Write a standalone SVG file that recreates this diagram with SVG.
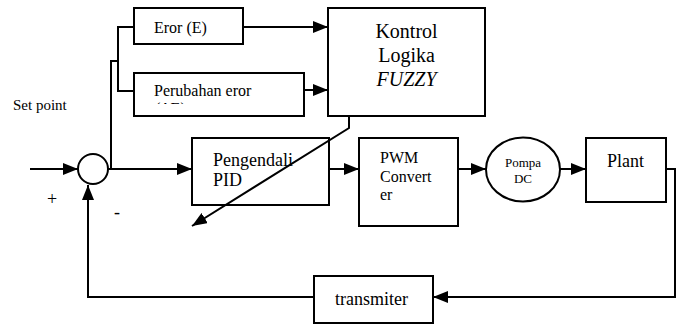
<svg xmlns="http://www.w3.org/2000/svg" width="678" height="324" viewBox="0 0 678 324">
<style>
.box{fill:#fff;stroke:#000;stroke-width:2}
.ln{fill:none;stroke:#000;stroke-width:2}
text{font-family:'Liberation Serif','Times New Roman',Times,serif;fill:#000}
</style>
<defs>
<marker id="ah" markerUnits="userSpaceOnUse" markerWidth="15" markerHeight="12" refX="15" refY="6" orient="auto">
<path d="M0,0 L15,6 L0,12 z" fill="#000"/>
</marker>
<clipPath id="clipPE"><rect x="135" y="74" width="168" height="30"/></clipPath>
</defs>
<rect width="678" height="324" fill="#fff"/>
<g id="sum">
<circle class="box" cx="93" cy="169" r="15"/>
</g>
<g id="labels">
<text x="13" y="110" font-size="15">Set point</text>
<text x="47" y="205" font-size="18">+</text>
<text x="114" y="218" font-size="18">-</text>
</g>
<g id="eror">
<rect class="box" x="134" y="8" width="109" height="36"/>
<text x="154" y="33" font-size="16">Eror (E)</text>
</g>
<g id="perubahan">
<rect class="box" x="134" y="73" width="170" height="43"/>
<text x="154" y="96" font-size="16">Perubahan eror</text>
<text x="155" y="114" font-size="16" clip-path="url(#clipPE)">(ΔE)</text>
</g>
<g id="fuzzy">
<rect class="box" x="328" y="8" width="157" height="108"/>
<text x="406.5" y="38" font-size="20" text-anchor="middle">Kontrol</text>
<text x="406.5" y="62" font-size="20" text-anchor="middle">Logika</text>
<text x="406.5" y="86" font-size="20" text-anchor="middle" font-style="italic">FUZZY</text>
</g>
<g id="pid">
<rect class="box" x="192" y="138" width="137" height="67"/>
<text x="213" y="166" font-size="18">Pengendali</text>
<text x="213" y="186" font-size="18">PID</text>
</g>
<g id="pwm">
<rect class="box" x="359" y="138" width="99" height="88"/>
<text x="380" y="163" font-size="16">PWM</text>
<text x="380" y="182" font-size="16">Convert</text>
<text x="380" y="200" font-size="16">er</text>
</g>
<g id="pompa">
<ellipse class="box" cx="523" cy="169.5" rx="37" ry="32"/>
<text x="523" y="167" font-size="13" text-anchor="middle">Pompa</text>
<text x="523" y="183" font-size="13" text-anchor="middle">DC</text>
</g>
<g id="plant">
<rect class="box" x="586" y="138" width="80" height="64"/>
<text x="607" y="167" font-size="18">Plant</text>
</g>
<g id="transmiter">
<rect class="box" x="314" y="276" width="119" height="47"/>
<text x="335" y="305" font-size="18">transmiter</text>
</g>
<g id="connectors">
<path class="ln" d="M30,169 H78" marker-end="url(#ah)"/>
<path class="ln" d="M108,169 H192" marker-end="url(#ah)"/>
<path class="ln" d="M111,169 V61 H118"/>
<path class="ln" d="M134,27 H118 V91 H134"/>
<path class="ln" d="M243,27 H328" marker-end="url(#ah)"/>
<path class="ln" d="M304,90 H328" marker-end="url(#ah)"/>
<path class="ln" d="M349,116 V128 L192,226" marker-end="url(#ah)"/>
<path class="ln" d="M330,169 H359" marker-end="url(#ah)"/>
<path class="ln" d="M458,169 H486" marker-end="url(#ah)"/>
<path class="ln" d="M560,169 H586" marker-end="url(#ah)"/>
<path class="ln" d="M666,169 H675 V297 H433" marker-end="url(#ah)"/>
<path class="ln" d="M314,297 H88 V185" marker-end="url(#ah)"/>
</g>
</svg>
